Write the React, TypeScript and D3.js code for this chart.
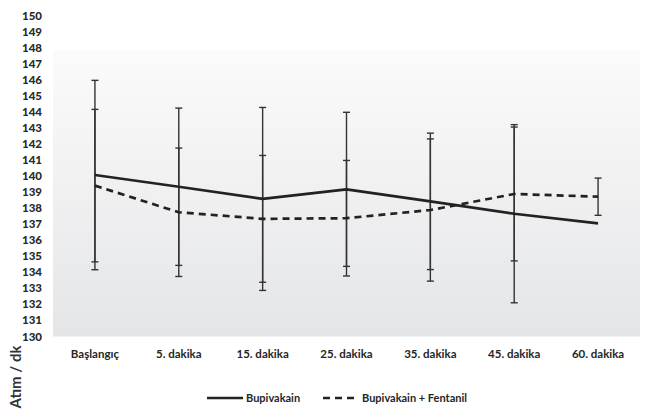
import React, { useEffect, useRef } from "react";
import * as d3 from "d3";

// timepoints and values
const categories = [
  "Başlangıç",
  "5. dakika",
  "15. dakika",
  "25. dakika",
  "35. dakika",
  "45. dakika",
  "60. dakika",
];
const bupivakain = [140.06, 139.33, 138.57, 139.17, 138.42, 137.65, 137.05];
const bupivakainErr = [5.9, 4.9, 5.7, 4.8, 4.25, 5.55, 0];
const fentanil = [139.4, 137.74, 137.33, 137.37, 137.88, 138.88, 138.71];
const fentanilErr = [4.75, 4.0, 3.95, 3.6, 4.43, 4.17, 1.16];
const yTicks = d3.range(130, 151, 1);

const series = [
  { name: "Bupivakain", values: bupivakain, err: bupivakainErr, dash: null },
  { name: "Bupivakain + Fentanil", values: fentanil, err: fentanilErr, dash: "7,5" },
];

const width = 646;
const height = 412;
const plot = { left: 53, right: 640, top: 50, bottom: 336.5 };
const font = "Lato, 'Open Sans', sans-serif";

export default function App() {
  const ref = useRef<SVGSVGElement>(null);

  useEffect(() => {
    const svg = d3.select(ref.current);
    svg.selectAll("*").remove();

    const x = d3.scaleBand().domain(categories).range([plot.left, plot.right]);
    const y = d3.scaleLinear().domain([130, 150]).range([plot.bottom, 15.5]);
    const cx = (c: string) => (x(c) as number) + x.bandwidth() / 2;

    // plot background gradient
    const grad = svg
      .append("defs")
      .append("linearGradient")
      .attr("id", "bg")
      .attr("x1", 0)
      .attr("y1", 0)
      .attr("x2", 0)
      .attr("y2", 1);
    grad.append("stop").attr("offset", "0%").attr("stop-color", "#fbfbfb");
    grad.append("stop").attr("offset", "100%").attr("stop-color", "#e4e5e7");

    svg
      .append("rect")
      .attr("x", plot.left)
      .attr("y", plot.top)
      .attr("width", plot.right - plot.left)
      .attr("height", plot.bottom - plot.top)
      .attr("fill", "url(#bg)");

    // y tick labels
    svg
      .append("g")
      .selectAll("text")
      .data(yTicks)
      .enter()
      .append("text")
      .attr("x", 42)
      .attr("y", (d) => y(d))
      .attr("dy", "0.35em")
      .attr("text-anchor", "end")
      .attr("font-family", font)
      .attr("font-weight", 900)
      .attr("font-size", 11.5)
      .attr("fill", "#2a2a2a")
      .text((d) => d);

    // x labels
    svg
      .append("g")
      .selectAll("text")
      .data(categories)
      .enter()
      .append("text")
      .attr("x", (d) => cx(d))
      .attr("y", 354)
      .attr("dy", "0.35em")
      .attr("text-anchor", "middle")
      .attr("font-family", font)
      .attr("font-weight", "bold")
      .attr("font-size", 11.5)
      .attr("fill", "#262626")
      .text((d) => d);

    // y title
    svg
      .append("text")
      .attr("transform", "translate(16,377) rotate(-90)")
      .attr("text-anchor", "middle")
      .attr("dy", "0.35em")
      .attr("font-family", font)
      .attr("font-weight", "bold")
      .attr("font-size", 15)
      .attr("fill", "#333")
      .text("Atım / dk");

    // error bars
    const capW = 3.5;
    series.forEach((s) => {
      const g = svg.append("g").attr("stroke", "#333").attr("stroke-width", 1.4);
      categories.forEach((c, i) => {
        const e = s.err[i];
        if (!e) return;
        const hi = y(s.values[i] + e);
        const lo = y(s.values[i] - e);
        const xc = cx(c);
        g.append("line").attr("x1", xc).attr("x2", xc).attr("y1", hi).attr("y2", lo);
        g.append("line").attr("x1", xc - capW).attr("x2", xc + capW).attr("y1", hi).attr("y2", hi);
        g.append("line").attr("x1", xc - capW).attr("x2", xc + capW).attr("y1", lo).attr("y2", lo);
      });
    });

    // lines
    const line = d3
      .line<number>()
      .x((_, i) => cx(categories[i]))
      .y((d) => y(d));

    series.forEach((s) => {
      svg
        .append("path")
        .attr("d", line(s.values))
        .attr("fill", "none")
        .attr("stroke", "#222")
        .attr("stroke-width", 2.7)
        .attr("stroke-dasharray", s.dash)
        .attr("stroke-linejoin", "round");
    });

    // legend
    const legend = [
      { x1: 207, x2: 243, tx: 246 },
      { x1: 323, x2: 359, tx: 362 },
    ];
    series.forEach((s, i) => {
      const l = legend[i];
      svg
        .append("line")
        .attr("x1", l.x1)
        .attr("x2", l.x2)
        .attr("y1", 398)
        .attr("y2", 398)
        .attr("stroke", "#222")
        .attr("stroke-width", 2.7)
        .attr("stroke-dasharray", s.dash);
      svg
        .append("text")
        .attr("x", l.tx)
        .attr("y", 398)
        .attr("dy", "0.35em")
        .attr("font-family", font)
        .attr("font-weight", "bold")
        .attr("font-size", 11)
        .attr("fill", "#262626")
        .text(s.name);
    });
  }, []);

  return (
    <svg
      ref={ref}
      width={width}
      height={height}
      style={{ position: "absolute", left: 0, top: 0, background: "#fff" }}
    />
  );
}
